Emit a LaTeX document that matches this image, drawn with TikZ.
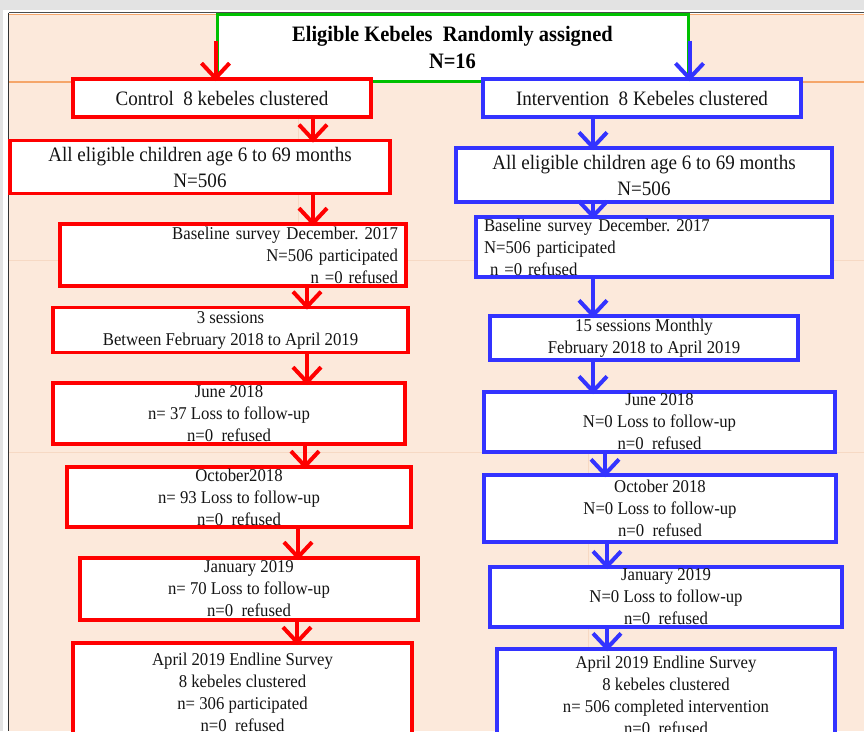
\documentclass[tikz,border=0pt]{standalone}
\usepackage{fontspec}
\setmainfont{Liberation Serif}[FakeStretch=0.93]
\frenchspacing
\usetikzlibrary{arrows.meta}
\definecolor{peach}{HTML}{FCE9DB}
\definecolor{gridl}{HTML}{F6D9C4}
\definecolor{orangel}{HTML}{F5A66A}
\definecolor{pgray}{HTML}{E3E3E3}
\definecolor{myred}{HTML}{FF0000}
\definecolor{myblue}{HTML}{3333FF}
\definecolor{mygreen}{HTML}{00C000}
\definecolor{txt}{HTML}{141414}
\tikzset{
  box/.style={rectangle, fill=white, inner sep=0pt, align=center, text=txt},
  rbox/.style={box, draw=myred, line width=3.8pt},
  bbox/.style={box, draw=myblue, line width=3.5pt},
  gbox/.style={box, draw=mygreen, line width=3pt},
  big/.style={font=\fontsize{20.5}{26}\selectfont},
  small/.style={font=\fontsize{18}{22}\selectfont},
  tipv/.style={-{Straight Barb[length=15pt,width=28pt,line width=4pt]}},
  rarr/.style={draw=myred, line width=4pt, shorten >=-4pt, tipv},
  barr/.style={draw=myblue, line width=4pt, shorten >=-4pt, tipv}
}
\begin{document}
\begin{tikzpicture}[x=1pt,y=-1pt]
\useasboundingbox (0,0) rectangle (864,731);
% page background
\fill[pgray] (0,0) rectangle (864,731);
\fill[white] (3,10) rectangle (864,731);
\fill[peach] (9,14) rectangle (864,731);
\draw[black!80, line width=1pt] (8.5,13) -- (8.5,731);
\draw[black!70, line width=0.8pt] (8.5,12.5) -- (864,12.5);
\draw[gridl, line width=1pt] (298,14) -- (298,260);
\draw[gridl, line width=1pt] (9,260) -- (864,260);
\draw[gridl, line width=1pt] (9,452) -- (864,452);
\draw[gridl, line width=1pt] (588,452) -- (588,731);
\draw[orangel, line width=1.5pt] (9,14.5) -- (864,14.5);
\draw[orangel, line width=1.5pt] (9,82) -- (864,82);

% title
\node[gbox, minimum width=471pt, minimum height=67pt,
      font=\bfseries\fontsize{22}{27}\selectfont, text=black]
  (top) at (452.5,47.5) {Eligible Kebeles\ \ Randomly assigned\\N=16};

% control arm
\node[rbox, big, minimum width=298pt, minimum height=38pt] (l1) at (222,98) {Control\ \ 8 kebeles clustered};
\node[rbox, big, minimum width=380pt, minimum height=53pt] (l2) at (200,167) {All eligible children age 6 to 69 months\\N=506};
\node[rbox, small, minimum width=346pt, minimum height=62pt, text width=330pt, align=right] (l3) at (233,255) {Baseline survey December. 2017\\N=506 participated\\n =0 refused};
\node[rbox, small, minimum width=355pt, minimum height=45pt] (l4) at (230.5,330) {3 sessions\\Between February 2018 to April 2019};
\node[rbox, small, minimum width=352pt, minimum height=61pt] (l5) at (229,413.5) {June 2018\\n= 37 Loss to follow-up\\n=0\ \ refused};
\node[rbox, small, minimum width=344pt, minimum height=60pt] (l6) at (239,497) {October2018\\n= 93 Loss to follow-up\\n=0\ \ refused};
\node[rbox, small, minimum width=338pt, minimum height=62pt] (l7) at (249,589) {January 2019\\n= 70 Loss to follow-up\\n=0\ \ refused};
\node[rbox, small, minimum width=339pt, minimum height=99pt] (l8) at (242.5,692.5) {April 2019 Endline Survey\\8 kebeles clustered\\n= 306 participated\\n=0\ \ refused};

% intervention arm
\node[bbox, big, minimum width=318pt, minimum height=38pt] (r1) at (642,98) {Intervention\ \ 8 Kebeles clustered};
\node[bbox, big, minimum width=376pt, minimum height=54pt] (r2) at (644,175) {All eligible children age 6 to 69 months\\N=506};
\node[bbox, small, minimum width=356pt, minimum height=60pt, text width=340pt, align=left] (r3) at (654,247) {Baseline survey December. 2017\\N=506 participated\\\ n =0 refused};
\node[bbox, small, minimum width=308pt, minimum height=44pt] (r4) at (644,338) {15 sessions Monthly\\February 2018 to April 2019};
\node[bbox, small, minimum width=351pt, minimum height=60pt] (r5) at (659.5,422) {June 2018\\N=0 Loss to follow-up\\n=0\ \ refused};
\node[bbox, small, minimum width=352pt, minimum height=67pt] (r6) at (660,508.5) {October 2018\\N=0 Loss to follow-up\\n=0\ \ refused};
\node[bbox, small, minimum width=352pt, minimum height=60pt] (r7) at (666,597) {January 2019\\N=0 Loss to follow-up\\n=0\ \ refused};
\node[bbox, small, minimum width=338pt, minimum height=92pt] (r8) at (666,695) {April 2019 Endline Survey\\8 kebeles clustered\\n= 506 completed intervention\\n=0\ \ refused};

% arrows control
\draw[rarr] ([yshift=-28pt]top.north west) -- (top.north west |- l1.north);
\draw[rarr] (l1.south -| 313,0) -- (l2.north -| 313,0);
\draw[rarr] (l2.south -| 313,0) -- (l3.north -| 313,0);
\draw[rarr] (l3.south -| 307,0) -- (l4.north -| 307,0);
\draw[rarr] (l4.south -| 307,0) -- (l5.north -| 307,0);
\draw[rarr] (l5.south -| 305,0) -- (l6.north -| 305,0);
\draw[rarr] (l6.south -| 298,0) -- (l7.north -| 298,0);
\draw[rarr] (l7.south -| 297,0) -- (l8.north -| 297,0);
% arrows intervention
\draw[barr] ([yshift=-28pt]top.north east) -- (top.north east |- r1.north);
\draw[barr] (r1.south -| 593,0) -- (r2.north -| 593,0);
\draw[barr] (r2.south -| 593,0) -- (r3.north -| 593,0);
\draw[barr] (r3.south -| 593,0) -- (r4.north -| 593,0);
\draw[barr] (r4.south -| 593,0) -- (r5.north -| 593,0);
\draw[barr] (r5.south -| 605,0) -- (r6.north -| 605,0);
\draw[barr] (r6.south -| 607,0) -- (r7.north -| 607,0);
\draw[barr] (r7.south -| 607,0) -- (r8.north -| 607,0);
\end{tikzpicture}
\end{document}
